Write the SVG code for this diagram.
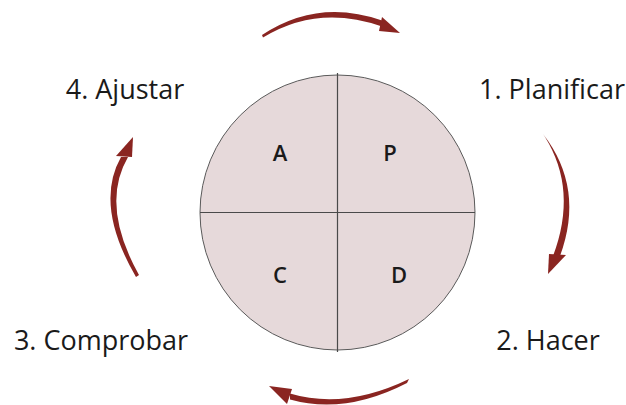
<svg xmlns="http://www.w3.org/2000/svg" width="626" height="405" viewBox="0 0 626 405">
  <style>
    .lbl { font-family: "Open Sans", "Noto Sans", "DejaVu Sans", sans-serif; font-size: 27px; fill: #1a1a1a; text-anchor: middle; }
    .q { font-family: "Open Sans", "Noto Sans", "DejaVu Sans", sans-serif; font-size: 22px; font-weight: 600; fill: #1a1a1a; text-anchor: middle; }
    .arrow { fill: #8a2521; stroke: none; }
    .div { stroke: #4a4a4a; stroke-width: 1.2; fill: none; }
  </style>
  <rect width="626" height="405" fill="#ffffff"/>
  <g id="cycle">
    <circle cx="337.5" cy="212.5" r="137.5" fill="#e6d9da" stroke="#5a5a5a" stroke-width="1"/>
    <line class="div" x1="337.5" y1="73" x2="337.5" y2="352"/>
    <line class="div" x1="200" y1="212.5" x2="475" y2="212.5"/>
  </g>
  <g id="quadrant-A"><text class="q" x="280" y="161">A</text></g>
  <g id="quadrant-P"><text class="q" x="390" y="161">P</text></g>
  <g id="quadrant-C"><text class="q" x="280" y="283">C</text></g>
  <g id="quadrant-D"><text class="q" x="399" y="283">D</text></g>
  <g id="label-planificar"><text class="lbl" x="552" y="99">1. Planificar</text></g>
  <g id="label-hacer"><text class="lbl" x="548" y="350">2. Hacer</text></g>
  <g id="label-comprobar"><text class="lbl" x="101" y="350">3. Comprobar</text></g>
  <g id="label-ajustar"><text class="lbl" x="125" y="99">4. Ajustar</text></g>
  <g id="connectors">
    <g id="arrow-top">
      <path class="arrow" d="M262,35 Q318,-2 382,20.5 L382,26.5 Q318,4 263,37.5 Z"/>
      <polygon class="arrow" points="382,17 400,33 379,31"/>
    </g>
    <g id="arrow-right">
      <path class="arrow" d="M543,134 Q585,188 560,256 L553,256 Q578,190 545,137 Z"/>
      <polygon class="arrow" points="549,254 566,255 548,274"/>
    </g>
    <g id="arrow-bottom">
      <path class="arrow" d="M409,379 Q345,410 290,393.5 L290,399.5 Q345,415 407,383 Z"/>
      <polygon class="arrow" points="292,389 287,404 269,386"/>
    </g>
    <g id="arrow-left">
      <path class="arrow" d="M136,277 Q94,205 121,157 L128,157 Q100,205 139,275 Z"/>
      <polygon class="arrow" points="116,156 132,157 133,137"/>
    </g>
  </g>
</svg>
